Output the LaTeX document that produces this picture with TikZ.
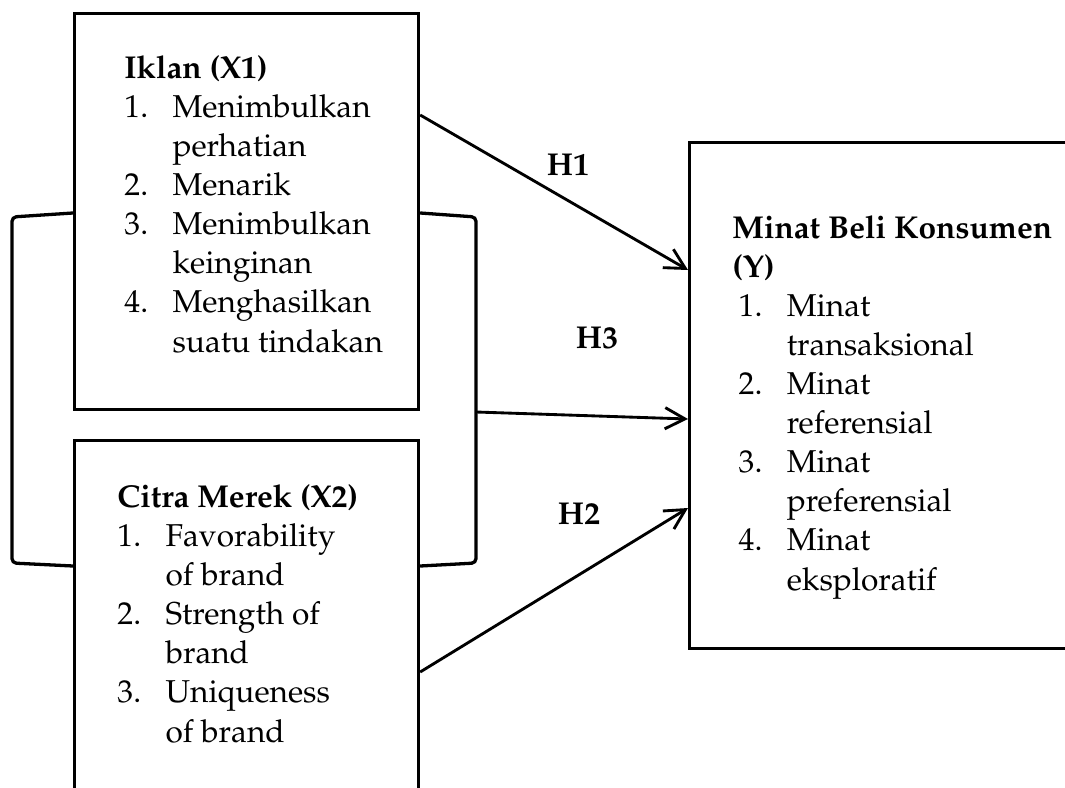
\documentclass[tikz,border=0pt]{standalone}
\usepackage[T1]{fontenc}
\usepackage{mathpazo}
\usetikzlibrary{positioning,arrows.meta,calc}
\tikzset{
    base/.style={font=\fontsize{14.4}{17.8}\selectfont},
    framebox/.style={rectangle, draw, line width=1.5pt, anchor=north west, inner sep=0pt},
    itemlist/.style={base, align=left, inner sep=0pt, anchor=base west},
    hyplabel/.style={font=\fontsize{14.4}{17.8}\selectfont\bfseries, inner sep=0pt, anchor=base},
    flow/.style={-{Straight Barb[length=3.2mm,width=3.4mm]}, line width=1.3pt},
    bracketline/.style={line width=1.5pt, rounded corners=2pt}
}
\newcommand{\itemno}[1]{\makebox[0.77cm][l]{#1}}
\newcommand{\itemgap}{\hspace*{0.77cm}}
\newcommand{\yind}{\hspace*{0.1cm}}

\begin{document}
\begin{tikzpicture}[x=0.016cm, y=-0.016cm]
  \useasboundingbox (0,0) rectangle (1065,787);
  \clip (0,0) rectangle (1065,787);

  % variable boxes
  \node[framebox, minimum width=5.504cm, minimum height=6.336cm] (x1) at (73,12) {};
  \node[framebox, minimum width=5.504cm, minimum height=6.4cm] (x2) at (73,439) {};
  \node[framebox, minimum width=6.72cm, minimum height=8.096cm] (ybox) at (688,141) {};

  % indicators (anchored at the last baseline)
  \node[itemlist] (x1text) at (124,352) {\textbf{Iklan (X1)}%
    \\\itemno{1.}Menimbulkan%
    \\\itemgap perhatian%
    \\\itemno{2.}Menarik%
    \\\itemno{3.}Menimbulkan%
    \\\itemgap keinginan%
    \\\itemno{4.}Menghasilkan%
    \\\itemgap suatu tindakan};
  \node[itemlist] (x2text) at (117,742) {\textbf{Citra Merek (X2)}%
    \\\itemno{1.}Favorability%
    \\\itemgap of brand%
    \\\itemno{2.}Strength of%
    \\\itemgap brand%
    \\\itemno{3.}Uniqueness%
    \\\itemgap of brand};
  \node[itemlist] (ytext) at (732,590) {\textbf{Minat Beli Konsumen}%
    \\\textbf{(Y)}%
    \\\yind\itemno{1.}Minat%
    \\\yind\itemgap transaksional%
    \\\yind\itemno{2.}Minat%
    \\\yind\itemgap referensial%
    \\\yind\itemno{3.}Minat%
    \\\yind\itemgap preferensial%
    \\\yind\itemno{4.}Minat%
    \\\yind\itemgap eksploratif};

  % bracket joining X1 and X2
  \draw[bracketline] ($(x1.north west)+(0,201)$) -- (12,217) -- (12,563) -- ($(x2.north west)+(0,127)$);
  \draw[bracketline] ($(x1.north east)+(0,201)$) -- (476,217) -- (476,563) -- ($(x2.north east)+(0,127)$);
  \coordinate (brk) at (476,412);

  % hypotheses
  \draw[flow] ($(x1.north east)+(0,103)$) -- ($(ybox.north west)+(0,129)$);
  \draw[flow] (brk) -- ($(ybox.north west)+(0,278)$);
  \draw[flow] ($(x2.north east)+(0,233)$) -- ($(ybox.north west)+(0,367)$);

  \node[hyplabel] (h1) at (568,176) {H1};
  \node[hyplabel] (h3) at (597,348) {H3};
  \node[hyplabel] (h2) at (579,524) {H2};
\end{tikzpicture}
\end{document}
